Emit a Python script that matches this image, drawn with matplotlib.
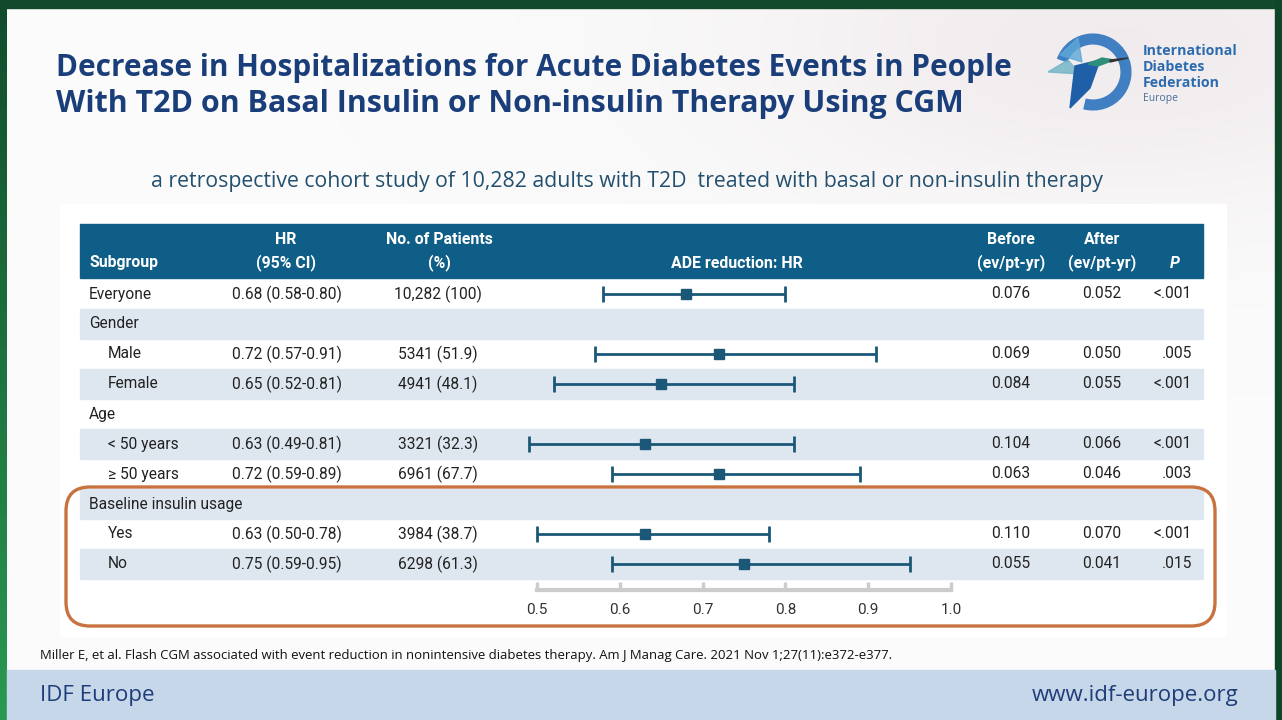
import numpy as np
import matplotlib
matplotlib.use("Agg")
import matplotlib.pyplot as plt
from matplotlib.patches import Rectangle, FancyBboxPatch, Arc, Polygon

# ---------------- data ----------------
row_labels = ["Everyone", "Gender", "Male", "Female", "Age", "< 50 years", "\u2265 50 years",
              "Baseline insulin usage", "Yes", "No"]
row_is_group = [False, True, False, False, True, False, False, True, False, False]
row_indent = [False, False, True, True, False, True, True, False, True, True]
hr = [0.68, None, 0.72, 0.65, None, 0.63, 0.72, None, 0.63, 0.75]
ci_lo = [0.58, None, 0.57, 0.52, None, 0.49, 0.59, None, 0.50, 0.59]
ci_hi = [0.80, None, 0.91, 0.81, None, 0.81, 0.89, None, 0.78, 0.95]
patients = ["10,282 (100)", "", "5341 (51.9)", "4941 (48.1)", "", "3321 (32.3)", "6961 (67.7)",
            "", "3984 (38.7)", "6298 (61.3)"]
before = ["0.076", "", "0.069", "0.084", "", "0.104", "0.063", "", "0.110", "0.055"]
after = ["0.052", "", "0.050", "0.055", "", "0.066", "0.046", "", "0.070", "0.041"]
pvals = ["<.001", "", ".005", "<.001", "", "<.001", ".003", "", "<.001", ".015"]
xticks = [0.5, 0.6, 0.7, 0.8, 0.9, 1.0]
xtick_labels = ["0.5", "0.6", "0.7", "0.8", "0.9", "1.0"]

title_lines = ["Decrease in Hospitalizations for Acute Diabetes Events in People",
               "With T2D on Basal Insulin or Non-insulin Therapy Using CGM"]
subtitle = "a retrospective cohort study of 10,282 adults with T2D  treated with basal or non-insulin therapy"
footnote = ("Miller E, et al. Flash CGM associated with event reduction in nonintensive diabetes therapy. "
            "Am J Manag Care. 2021 Nov 1;27(11):e372-e377.")

# ---------------- styles ----------------
W, H = 1282, 720
NAVY = "#1a3e7a"
HEAD = "#0f5e87"
LIGHT = "#dee7f0"
MARK = "#1b5878"
ORANGE = "#c8733f"
TXT = "#222222"
TFONT = ["Roboto", "DejaVu Sans"]
SFONT = ["Open Sans", "DejaVu Sans"]

fig = plt.figure(figsize=(W / 100, H / 100), dpi=100)
bg = fig.add_axes([0, 0, 1, 1])
bg.set_xlim(0, W)
bg.set_ylim(H, 0)
bg.axis("off")
renderer = fig.canvas.get_renderer()


def fit_text(ax, x, y, s, width, **kw):
    t = ax.text(x, y, s, fontsize=10, **kw)
    bb = t.get_window_extent(renderer)
    t.set_fontsize(10 * width / bb.width)
    return t


# slide background with subtle haze top-right
yy, xx = np.mgrid[0:H:4, 0:W:4]
d = np.exp(-(((xx - 1120) / 380.0) ** 2 + ((yy - 40) / 170.0) ** 2))
img = np.ones((yy.shape[0], yy.shape[1], 3))
img[..., 0] = 0.985 - 0.04 * d
img[..., 1] = 0.985 - 0.06 * d
img[..., 2] = 0.985 - 0.055 * d
bg.imshow(img, extent=(0, W, H, 0), aspect="auto", zorder=0)

# green frame
greens = np.zeros((60, 1, 3))
greens[:, 0, 0] = np.linspace(0.07, 0.16, 60)
greens[:, 0, 1] = np.linspace(0.30, 0.60, 60)
greens[:, 0, 2] = np.linspace(0.17, 0.32, 60)
bg.imshow(greens, extent=(0, 7, H, 0), aspect="auto", zorder=1)
bg.add_patch(Rectangle((0, 0), W, 8, color="#12482b", zorder=1))
bg.add_patch(Rectangle((1275, 0), 7, H, color="#0f4529", zorder=1))

# white panel behind table
bg.add_patch(Rectangle((60, 204), 1166, 432, color="white", zorder=1))

# title
for i, line in enumerate(title_lines):
    w = 956 if i == 0 else 910
    fit_text(bg, 56, 68 + 36 * i, line, w, color=NAVY, fontweight="bold",
             family=SFONT, va="center", ha="left", zorder=3)

# subtitle
fit_text(bg, 627, 181, subtitle, 948, color="#23506f", family=SFONT,
         va="center", ha="center", zorder=3)

# logo
bg.add_patch(Arc((1093, 72), 66, 66, theta1=-160, theta2=105, lw=8, color="#3f7fc2", zorder=3))
bg.add_patch(Polygon([[1060, 55], [1078, 38], [1082, 62]], color="#5fa8d8", alpha=0.8, zorder=3))
bg.add_patch(Polygon([[1048, 72], [1068, 60], [1080, 74]], color="#6fb3c8", alpha=0.8, zorder=3))
bg.add_patch(Polygon([[1075, 66], [1100, 60], [1090, 88], [1070, 108]], color="#1f5fa8", zorder=3))
bg.add_patch(Polygon([[1088, 64], [1102, 58], [1114, 60], [1098, 66]], color="#2f8f7a", zorder=3))
bg.add_patch(Polygon([[1110, 60], [1128, 58], [1110, 62]], color="#333333", zorder=3))
for i, s in enumerate(["International", "Diabetes", "Federation"]):
    bg.text(1143, 51 + 16 * i, s, fontsize=10.2, fontweight="bold", color="#2c6bb0",
            family=SFONT, va="center", ha="left", zorder=3)
bg.text(1143, 99, "Europe", fontsize=7.5, color="#4a6f99", family=SFONT,
        va="center", ha="left", zorder=3)

# table header
TX0, TX1 = 80, 1203
bg.add_patch(Rectangle((TX0, 224), TX1 - TX0, 54, color=HEAD, zorder=2))
hkw = dict(color="white", fontweight="bold", fontsize=11.4, family=TFONT, va="center", zorder=3)
bg.text(89, 263, "Subgroup", ha="left", **hkw)
bg.text(286, 240, "HR", ha="center", **hkw)
bg.text(286, 263, "(95% CI)", ha="center", **hkw)
bg.text(439, 240, "No. of Patients", ha="center", **hkw)
bg.text(439, 263, "(%)", ha="center", **hkw)
bg.text(737, 263, "ADE reduction: HR", ha="center", **hkw)
bg.text(1011, 240, "Before", ha="center", **hkw)
bg.text(1011, 263, "(ev/pt-yr)", ha="center", **hkw)
bg.text(1102, 240, "After", ha="center", **hkw)
bg.text(1102, 263, "(ev/pt-yr)", ha="center", **hkw)
bg.text(1175, 263, "P", ha="center", style="italic", **hkw)

# table rows
ROW0, RH = 279, 30
bkw = dict(color=TXT, fontsize=11.2, family=TFONT, va="center", zorder=3)
for i, lab in enumerate(row_labels):
    top = ROW0 + RH * i
    yc = top + RH / 2
    if i % 2 == 1:
        bg.add_patch(Rectangle((TX0, top), TX1 - TX0, RH, color=LIGHT, zorder=2))
    bg.text(108 if row_indent[i] else 89, yc, lab, ha="left", **bkw)
    if hr[i] is not None:
        bg.text(287, yc, f"{hr[i]:.2f} ({ci_lo[i]:.2f}-{ci_hi[i]:.2f})", ha="center", **bkw)
    bg.text(438, yc, patients[i], ha="center", **bkw)
    bg.text(1011, yc, before[i], ha="center", **bkw)
    bg.text(1102, yc, after[i], ha="center", **bkw)
    bg.text(1192, yc, pvals[i], ha="right", **bkw)

# orange highlight box
bg.add_patch(FancyBboxPatch((66, 487), 1149, 139, boxstyle="round,pad=0,rounding_size=24",
                            fill=False, edgecolor=ORANGE, lw=2.4, zorder=4))

# footnote and bottom band
fit_text(bg, 40, 655, footnote, 846, color="#111111", family=SFONT,
         va="center", ha="left", zorder=3)
bg.add_patch(Rectangle((7, 670), 1268, 50, color="#c6d7ea", zorder=2))
fit_text(bg, 40, 695, "IDF Europe", 115, color="#1f3d78", family=SFONT,
         va="center", ha="left", zorder=3)
fit_text(bg, 1238, 695, "www.idf-europe.org", 207, color="#1f3d78",
         family=SFONT, va="center", ha="right", zorder=3)

# ---------------- forest plot axes ----------------
AX_L, AX_R, AX_T, AX_B = 537, 951, 279, 590
fa = fig.add_axes([AX_L / W, 1 - AX_B / H, (AX_R - AX_L) / W, (AX_B - AX_T) / H])
fa.patch.set_alpha(0)
fa.set_zorder(5)
fa.set_xlim(0.5, 1.0)
ybottom = (AX_B - (ROW0 + RH / 2)) / RH
fa.set_ylim(ybottom, -0.5)
for i in range(len(row_labels)):
    if hr[i] is None:
        continue
    cont = fa.errorbar([hr[i]], [i], xerr=[[hr[i] - ci_lo[i]], [ci_hi[i] - hr[i]]],
                       fmt="s", color=MARK, ms=7.5, elinewidth=2, capsize=6, capthick=2)
    for art in cont.get_children():
        art.set_clip_on(False)
for s in ["top", "left", "right"]:
    fa.spines[s].set_visible(False)
fa.spines["bottom"].set_color("#cccccc")
fa.spines["bottom"].set_linewidth(3)
fa.set_yticks([])
fa.set_xticks(xticks)
fa.set_xticklabels(xtick_labels, family=TFONT)
fa.tick_params(axis="x", direction="in", length=6, width=2.5, color="#cccccc",
               labelsize=11, labelcolor="#333333", pad=9)

fig.savefig("out.png", dpi=100)
